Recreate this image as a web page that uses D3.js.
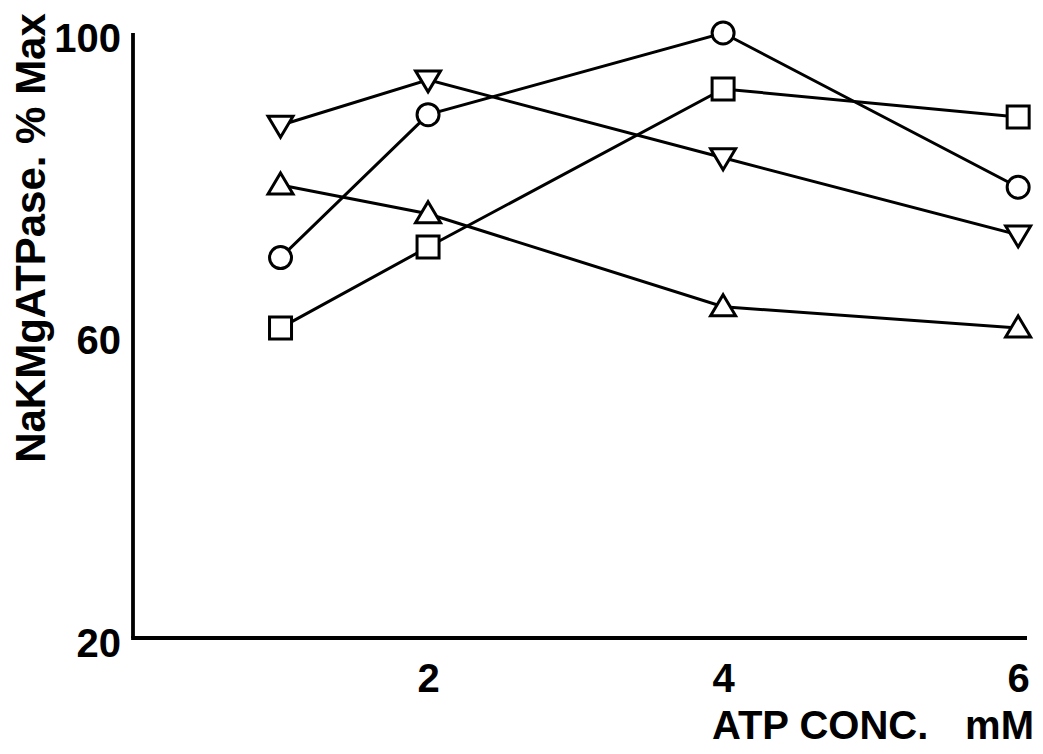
<!DOCTYPE html>
<html>
<head>
<meta charset="utf-8">
<script src="https://cdn.jsdelivr.net/npm/d3@7"></script>
<style>
  html, body { margin: 0; padding: 0; background: #fff; }
  svg { display: block; }
  text { font-family: "Liberation Sans", Arial, Helvetica, sans-serif; font-weight: bold; fill: #000; }
</style>
</head>
<body>
<svg id="chart" width="1043" height="754"></svg>
<script>
// ---- data ----
const atpConc = [1, 2, 4, 6];
const circleSeries = [70.3, 89.2, 100, 79.6];
const invTriangleSeries = [87.8, 93.8, 83.5, 73.3];
const triangleSeries = [79.9, 76.1, 63.8, 61.0];
const squareSeries = [61.0, 71.7, 92.6, 88.9];
const xTickValues = [2, 4, 6];
const yTickValues = [20, 60, 100];
const xTitle = "ATP CONC.";
const xUnit = "mM";
const yTitle = "NaKMgATPase. % Max";

const seriesList = [
  { name: "circle", values: circleSeries, shape: "circle" },
  { name: "invTriangle", values: invTriangleSeries, shape: "invTriangle" },
  { name: "triangle", values: triangleSeries, shape: "triangle" },
  { name: "square", values: squareSeries, shape: "square" }
];

// ---- layout ----
const svg = d3.select("#chart");
const x = d3.scaleLinear().domain([0, 6.06]).range([133, 1027]);
const y = d3.scaleLinear().domain([20, 100]).range([638, 33]);

// axes lines (no tick marks)
const yAxis = d3.axisLeft(y).tickValues(yTickValues).tickSize(0).tickPadding(12).tickFormat(d3.format("d"));
const xAxis = d3.axisBottom(x).tickValues(xTickValues).tickSize(0).tickPadding(26).tickFormat(d3.format("d"));

const gy = svg.append("g").attr("transform", `translate(${x(0)},0)`).call(yAxis);
gy.select(".domain").attr("stroke", "#000").attr("stroke-width", 3.8).attr("d", `M0,${y(100)}V${y(20)}`);
gy.selectAll(".tick text")
  .attr("font-size", 40).attr("font-weight", "bold")
  .attr("font-family", '"Liberation Sans", Arial, sans-serif')
  .attr("fill", "#000")
  .attr("dy", "0.45em");

const gx = svg.append("g").attr("transform", `translate(0,${y(20)})`).call(xAxis);
gx.select(".domain").attr("stroke", "#000").attr("stroke-width", 3.8).attr("d", `M${x(0) - 1.9},0H${x(6.06)}`);
gx.selectAll(".tick text")
  .attr("font-size", 40).attr("font-weight", "bold")
  .attr("font-family", '"Liberation Sans", Arial, sans-serif')
  .attr("fill", "#000");

// axis titles
svg.append("text")
  .attr("x", 712).attr("y", 739)
  .attr("font-size", 40)
  .text(xTitle);
svg.append("text")
  .attr("x", 1034).attr("y", 739)
  .attr("text-anchor", "end")
  .attr("font-size", 40)
  .text(xUnit);

svg.append("text")
  .attr("transform", "translate(45,238) rotate(-90)")
  .attr("text-anchor", "middle")
  .attr("font-size", 42)
  .text(yTitle);

// lines
const line = d3.line().x((d, i) => x(atpConc[i])).y(d => y(d));
svg.append("g").selectAll("path")
  .data(seriesList)
  .join("path")
  .attr("d", s => line(s.values))
  .attr("fill", "none")
  .attr("stroke", "#000")
  .attr("stroke-width", 3);

// markers
const markerPath = {
  circle: d3.symbol().type(d3.symbolCircle).size(Math.PI * 11 * 11)(),
  square: "M-11,-11H11V11H-11Z",
  triangle: "M0,-12L12.5,9L-12.5,9Z",
  invTriangle: "M0,12L12.5,-9L-12.5,-9Z"
};
seriesList.forEach(s => {
  svg.append("g").selectAll("path")
    .data(s.values)
    .join("path")
    .attr("transform", (d, i) => `translate(${x(atpConc[i])},${y(d)})`)
    .attr("d", markerPath[s.shape])
    .attr("fill", "#fff")
    .attr("stroke", "#000")
    .attr("stroke-width", 3);
});
</script>
</body>
</html>
